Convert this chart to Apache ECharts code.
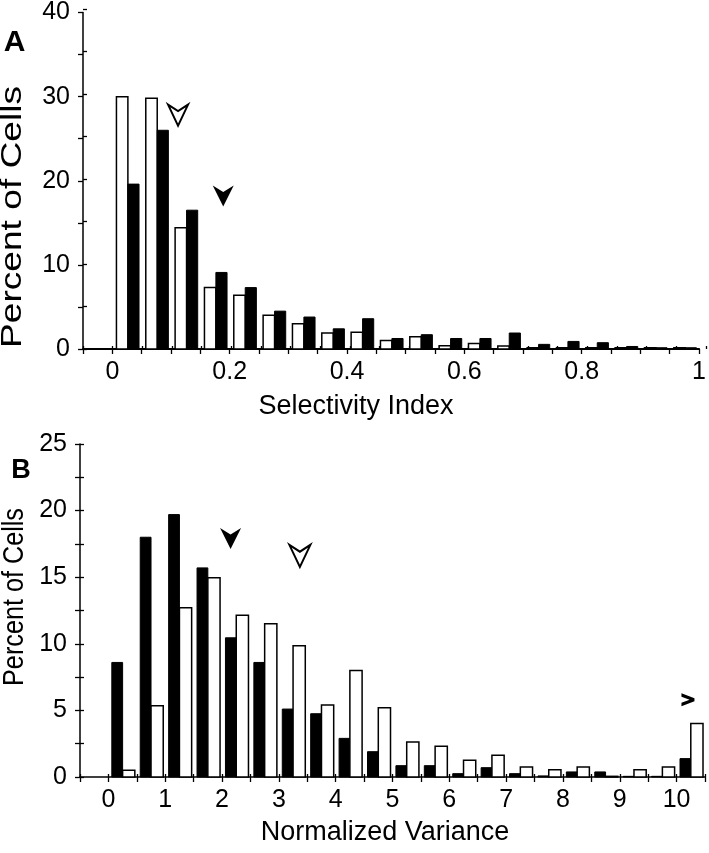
<!DOCTYPE html>
<html>
<head>
<meta charset="utf-8">
<script src="https://cdn.jsdelivr.net/npm/echarts@6/dist/echarts.min.js"></script>
<style>
html,body{margin:0;padding:0;background:#fff;}
#chart{width:709px;height:853px;}
</style>
</head>
<body>
<div id="chart"></div>
<script>
// ---------- Data ----------
// Panel A: Selectivity Index histogram, bins of 0.05 starting at 0
const binWidthA = 0.05;
const binStartsA = [0,0.05,0.1,0.15,0.2,0.25,0.3,0.35,0.4,0.45,0.5,0.55,0.6,0.65,0.7,0.75,0.8,0.85,0.9,0.95];
const openA  = [30.0, 29.8, 14.4, 7.3, 6.4, 4.0, 3.0, 1.9, 2.0, 1.0, 1.45, 0.4, 0.65, 0.35, 0.15, 0.15, 0.15, 0.15, 0.15, 0.15];
const filledA = [19.6, 26.0, 16.5, 9.1, 7.3, 4.5, 3.8, 2.4, 3.6, 1.25, 1.7, 1.25, 1.25, 1.9, 0.55, 0.9, 0.75, 0.3, 0.15, 0.15];
// Panel B: Normalized Variance histogram, bins of 0.5 starting at 0
const binWidthB = 0.5;
const binStartsB = [0,0.5,1,1.5,2,2.5,3,3.5,4,4.5,5,5.5,6,6.5,7,7.5,8,8.5,9,9.5,10];
const filledB = [8.6, 18.0, 19.7, 15.7, 10.45, 8.6, 5.1, 4.75, 2.9, 1.9, 0.85, 0.85, 0.25, 0.7, 0.25, 0.08, 0.38, 0.38, 0.05, 0.05, 1.38];
const openB   = [0.5, 5.35, 12.7, 14.95, 12.15, 11.5, 9.85, 5.4, 8.0, 5.2, 2.63, 2.31, 1.26, 1.63, 0.75, 0.55, 0.75, 0.05, 0.55, 0.75, 4.02];
// Arrowhead markers [x, y]
const markerOpenA = [[0.112, 27.8]];
const markerFilledA = [[0.189, 18.2]];
const markerFilledB = [[2.15, 17.9]];
const markerOpenB = [[3.37, 16.6]];
const markerOverflowB = [[10.2, 5.8]];
// Tick labels
const xTicksA = ['0','0.2','0.4','0.6','0.8','1'];
const xTicksB = ['0','1','2','3','4','5','6','7','8','9','10'];
const yTicksA = ['0','10','20','30','40'];
const yTicksB = ['0','5','10','15','20','25'];

// ---------- Chart ----------
const FONT = '"Liberation Sans", Arial, Helvetica, sans-serif';
const chart = echarts.init(document.getElementById('chart'), null, {renderer:'canvas'});

function pairs(starts, vals){ return starts.map((s,i)=>[s, vals[i]]); }

function barRender(f0, f1, binW, fill, stroke, lw){
  return function(params, api){
    const x0 = api.value(0), v = api.value(1);
    const p0 = api.coord([x0 + f0*binW, v]);
    const p1 = api.coord([x0 + f1*binW, 0]);
    return {
      type:'rect',
      shape:{x:p0[0], y:p0[1], width:p1[0]-p0[0], height:p1[1]-p0[1]},
      style:{fill:fill, stroke:stroke, lineWidth:lw}
    };
  };
}

function tickFmt(list, scale){
  return function(v){
    const s = String(Math.round(v*scale)/scale);
    return list.indexOf(s) >= 0 ? s : '';
  };
}

const gridA = {left:83, top:9, width:623, height:340};
const gridB = {left:80, top:444, width:625, height:333};

const labelStyle = {color:'#000', fontSize:25, fontFamily:FONT};

function xAxisMain(gi, min, max, interval, fmt, lineW){
  return {
    type:'value', gridIndex:gi, min:min, max:max, interval:interval,
    axisLine:{show:true, onZero:false, lineStyle:{color:'#000', width:lineW}},
    axisTick:{show:true, length:5, lineStyle:{color:'#000', width:1.3}},
    axisLabel:Object.assign({formatter:fmt, margin:11, showMinLabel:true, showMaxLabel:true}, labelStyle),
    splitLine:{show:false}
  };
}
function xAxisInner(gi, min, max, interval){
  return {
    type:'value', gridIndex:gi, min:min, max:max, interval:interval,
    axisLine:{show:false, onZero:false},
    axisTick:{show:true, inside:true, length:3, lineStyle:{color:'#000', width:1.3}},
    axisLabel:{show:false}, splitLine:{show:false}
  };
}
function yAxisMain(gi, min, max, interval, fmt){
  return {
    type:'value', gridIndex:gi, min:min, max:max, interval:interval,
    axisLine:{show:true, onZero:false, lineStyle:{color:'#000', width:1.5}},
    axisTick:{show:true, length:5, lineStyle:{color:'#000', width:1.3}},
    axisLabel:Object.assign({formatter:fmt, margin:13, showMinLabel:true, showMaxLabel:true}, labelStyle),
    splitLine:{show:false}
  };
}
function yAxisInner(gi, min, max, interval){
  return {
    type:'value', gridIndex:gi, min:min, max:max, interval:interval,
    axisLine:{show:false, onZero:false},
    axisTick:{show:true, inside:true, length:4, lineStyle:{color:'#000', width:1.3}},
    axisLabel:{show:false}, splitLine:{show:false}
  };
}

const arrowPath = 'path://M0,0 L10,6.5 L20,0 L10,21 Z';
const chevronPath = 'path://M0,0 L12,5 L12,8 L0,13 L0,9.5 L7.5,6.5 L0,3.5 Z';

const option = {
  animation:false,
  backgroundColor:'#fff',
  grid:[gridA, gridB, Object.assign({}, gridA), Object.assign({}, gridB)],
  xAxis:[
    xAxisMain(0, -0.05, 1, 0.05, tickFmt(xTicksA, 100), 2),
    xAxisMain(1, -0.5, 10.5, 0.5, tickFmt(xTicksB, 10), 1.5),
    xAxisInner(2, -0.05, 1, 0.05),
    xAxisInner(3, -0.5, 10.5, 0.5)
  ],
  yAxis:[
    yAxisMain(0, 0, 40, 5, tickFmt(yTicksA, 1)),
    yAxisMain(1, 0, 25, 2.5, tickFmt(yTicksB, 10)),
    yAxisInner(2, 0, 40, 5),
    yAxisInner(3, 0, 25, 2.5)
  ],
  series:[
    {type:'custom', name:'A open', xAxisIndex:0, yAxisIndex:0, data:pairs(binStartsA, openA),
     renderItem:barRender(0.14, 0.53, binWidthA, '#fff', '#000', 1.5), z:3},
    {type:'custom', name:'A filled', xAxisIndex:0, yAxisIndex:0, data:pairs(binStartsA, filledA),
     renderItem:barRender(0.53, 0.91, binWidthA, '#000', '#000', 1), z:3},
    {type:'custom', name:'B filled', xAxisIndex:1, yAxisIndex:1, data:pairs(binStartsB, filledB),
     renderItem:barRender(0.12, 0.5, binWidthB, '#000', '#000', 1), z:3},
    {type:'custom', name:'B open', xAxisIndex:1, yAxisIndex:1, data:pairs(binStartsB, openB),
     renderItem:barRender(0.5, 0.93, binWidthB, '#fff', '#000', 1.5), z:3},
    {type:'scatter', xAxisIndex:0, yAxisIndex:0, data:markerOpenA, symbol:arrowPath, symbolSize:[20,21],
     itemStyle:{color:'#fff', borderColor:'#000', borderWidth:2, opacity:1}, z:5},
    {type:'scatter', xAxisIndex:0, yAxisIndex:0, data:markerFilledA, symbol:arrowPath, symbolSize:[21,21],
     itemStyle:{color:'#000', opacity:1}, z:5},
    {type:'scatter', xAxisIndex:1, yAxisIndex:1, data:markerFilledB, symbol:arrowPath, symbolSize:[21,21],
     itemStyle:{color:'#000', opacity:1}, z:5},
    {type:'scatter', xAxisIndex:1, yAxisIndex:1, data:markerOpenB, symbol:arrowPath, symbolSize:[21,22],
     itemStyle:{color:'#fff', borderColor:'#000', borderWidth:2, opacity:1}, z:5},
    {type:'scatter', xAxisIndex:1, yAxisIndex:1, data:markerOverflowB, symbol:chevronPath, symbolSize:[13,13],
     itemStyle:{color:'#000', opacity:1}, z:5}
  ],
  graphic:[
    {type:'text', position:[356,407], style:{text:'Selectivity Index', font:'27px '+FONT, fill:'#000', textAlign:'center', textVerticalAlign:'middle'}},
    {type:'text', position:[385,833], style:{text:'Normalized Variance', font:'27px '+FONT, fill:'#000', textAlign:'center', textVerticalAlign:'middle'}},
    {type:'text', position:[12.5,217], rotation:Math.PI/2, scaleX:1.28, style:{text:'Percent of Cells', font:'29px '+FONT, fill:'#000', textAlign:'center', textVerticalAlign:'middle'}},
    {type:'text', position:[15,597], rotation:Math.PI/2, scaleX:0.84, style:{text:'Percent of Cells', font:'30px '+FONT, fill:'#000', textAlign:'center', textVerticalAlign:'middle'}},
    {type:'text', position:[14.5,43], style:{text:'A', font:'bold 30px '+FONT, fill:'#000', textAlign:'center', textVerticalAlign:'middle'}},
    {type:'text', position:[21,471], style:{text:'B', font:'bold 27px '+FONT, fill:'#000', textAlign:'center', textVerticalAlign:'middle'}}
  ]
};
chart.setOption(option);
</script>
</body>
</html>
